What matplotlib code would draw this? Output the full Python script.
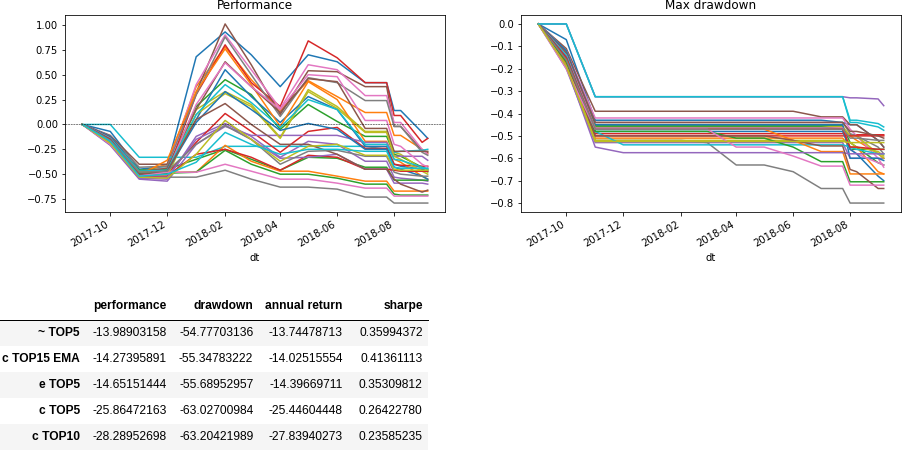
import matplotlib
matplotlib.use("Agg")
import matplotlib.pyplot as plt
import matplotlib.dates as mdates
import pandas as pd

# dates of the samples
dates = pd.to_datetime([
    "2017-09-01", "2017-10-01", "2017-11-01", "2017-12-01", "2018-01-01",
    "2018-02-01", "2018-03-01", "2018-04-01", "2018-05-01", "2018-06-01",
    "2018-07-01", "2018-07-24", "2018-08-01", "2018-08-08", "2018-08-31",
    "2018-09-06",
])

# performance, one list per strategy (order follows the default colour cycle)
performance = [
    [0, -0.07, -0.45, -0.42, 0.68, 0.93, 0.70, 0.38, 0.70, 0.63, 0.42, 0.42, 0.14, 0.14, -0.08, -0.14],
    [0, -0.13, -0.48, -0.40, 0.38, 0.78, 0.45, 0.14, 0.44, 0.28, 0.12, 0.12, -0.11, -0.11, -0.25, -0.29],
    [0, -0.14, -0.46, -0.44, 0.18, 0.45, 0.30, -0.05, 0.20, 0.03, -0.12, -0.12, -0.30, -0.32, -0.43, -0.45],
    [0, -0.12, -0.50, -0.48, 0.30, 0.80, 0.42, 0.18, 0.84, 0.67, 0.42, 0.42, 0.09, 0.09, -0.18, -0.14],
    [0, -0.20, -0.54, -0.55, -0.12, 0.01, -0.12, -0.33, -0.17, -0.20, -0.37, -0.37, -0.53, -0.54, -0.56, -0.57],
    [0, -0.11, -0.40, -0.40, 0.32, 1.01, 0.60, 0.10, 0.54, 0.53, 0.38, 0.38, -0.02, -0.02, -0.26, -0.28],
    [0, -0.12, -0.47, -0.44, 0.40, 0.90, 0.55, 0.16, 0.60, 0.55, 0.29, 0.29, 0.02, 0.02, -0.25, -0.30],
    [0, -0.12, -0.43, -0.42, 0.30, 0.88, 0.50, 0.08, 0.47, 0.42, 0.24, 0.24, -0.02, -0.02, -0.28, -0.31],
    [0, -0.15, -0.50, -0.48, 0.15, 0.33, 0.20, -0.13, 0.35, 0.18, -0.07, -0.07, -0.28, -0.30, -0.45, -0.48],
    [0, 0.00, -0.33, -0.33, -0.33, -0.22, -0.22, -0.22, -0.22, -0.22, -0.22, -0.25, -0.28, -0.27, -0.26, -0.25],
    [0, -0.12, -0.47, -0.45, 0.05, 0.55, 0.28, 0.02, 0.28, 0.15, -0.22, -0.22, -0.40, -0.42, -0.45, -0.47],
    [0, -0.16, -0.51, -0.36, 0.33, 0.76, 0.40, -0.02, 0.43, 0.25, -0.17, -0.17, -0.35, -0.38, -0.52, -0.55],
    [0, -0.15, -0.47, -0.45, -0.35, -0.25, -0.35, -0.46, -0.33, -0.34, -0.43, -0.43, -0.56, -0.56, -0.56, -0.56],
    [0, -0.14, -0.50, -0.50, -0.18, 0.11, -0.07, -0.28, -0.07, -0.03, -0.24, -0.24, -0.40, -0.41, -0.42, -0.42],
    [0, -0.21, -0.55, -0.57, -0.20, -0.02, -0.11, -0.11, -0.11, -0.11, -0.18, -0.18, -0.32, -0.32, -0.32, -0.36],
    [0, -0.13, -0.48, -0.44, 0.15, 0.63, 0.38, 0.12, 0.46, 0.43, -0.04, -0.04, -0.27, -0.27, -0.27, -0.27],
    [0, -0.14, -0.50, -0.48, 0.20, 0.62, 0.38, 0.15, 0.50, 0.48, 0.04, 0.04, -0.20, -0.22, -0.40, -0.43],
    [0, -0.18, -0.52, -0.53, -0.53, -0.46, -0.55, -0.63, -0.63, -0.65, -0.73, -0.73, -0.79, -0.79, -0.79, -0.79],
    [0, -0.17, -0.52, -0.52, 0.10, 0.31, 0.18, -0.14, 0.33, 0.16, -0.08, -0.08, -0.32, -0.35, -0.47, -0.50],
    [0, -0.14, -0.47, -0.46, 0.10, 0.40, 0.22, -0.03, 0.25, 0.15, -0.20, -0.20, -0.35, -0.36, -0.43, -0.45],
    [0, -0.15, -0.50, -0.47, 0.02, 0.33, 0.15, -0.06, 0.01, -0.05, -0.25, -0.25, -0.43, -0.45, -0.52, -0.55],
    [0, -0.18, -0.48, -0.48, -0.48, -0.21, -0.37, -0.47, -0.47, -0.52, -0.57, -0.57, -0.67, -0.67, -0.67, -0.67],
    [0, -0.17, -0.49, -0.49, -0.48, -0.26, -0.40, -0.50, -0.50, -0.54, -0.60, -0.60, -0.70, -0.71, -0.71, -0.71],
    [0, -0.15, -0.52, -0.52, -0.30, -0.25, -0.33, -0.46, -0.31, -0.33, -0.45, -0.45, -0.46, -0.47, -0.47, -0.47],
    [0, -0.19, -0.53, -0.53, -0.15, -0.01, -0.15, -0.34, -0.33, -0.30, -0.45, -0.45, -0.59, -0.59, -0.59, -0.60],
    [0, -0.16, -0.50, -0.47, 0.05, 0.21, 0.00, -0.20, -0.20, -0.30, -0.45, -0.45, -0.55, -0.60, -0.68, -0.66],
    [0, -0.20, -0.52, -0.48, -0.48, -0.40, -0.47, -0.55, -0.55, -0.59, -0.64, -0.64, -0.72, -0.72, -0.72, -0.72],
    [0, -0.16, -0.48, -0.47, -0.20, -0.01, -0.15, -0.40, -0.27, -0.26, -0.32, -0.32, -0.48, -0.50, -0.52, -0.52],
    [0, -0.19, -0.53, -0.54, -0.30, 0.04, -0.15, -0.37, -0.22, -0.20, -0.31, -0.31, -0.45, -0.46, -0.46, -0.46],
    [0, -0.17, -0.52, -0.50, -0.38, -0.08, -0.20, -0.30, -0.25, -0.25, -0.27, -0.27, -0.43, -0.44, -0.44, -0.44],
]

# max drawdown, same order
drawdown = [
    [0, -0.07, -0.43, -0.43, -0.43, -0.43, -0.43, -0.43, -0.43, -0.43, -0.43, -0.44, -0.45, -0.45, -0.52, -0.55],
    [0, -0.13, -0.46, -0.46, -0.46, -0.46, -0.46, -0.46, -0.46, -0.46, -0.46, -0.46, -0.50, -0.52, -0.58, -0.60],
    [0, -0.14, -0.455, -0.455, -0.455, -0.455, -0.455, -0.455, -0.455, -0.455, -0.455, -0.455, -0.53, -0.55, -0.62, -0.63],
    [0, -0.12, -0.49, -0.49, -0.49, -0.49, -0.49, -0.49, -0.49, -0.49, -0.49, -0.49, -0.495, -0.495, -0.495, -0.495],
    [0, -0.20, -0.53, -0.53, -0.53, -0.53, -0.53, -0.53, -0.53, -0.53, -0.53, -0.53, -0.60, -0.60, -0.60, -0.60],
    [0, -0.11, -0.39, -0.39, -0.39, -0.39, -0.39, -0.39, -0.39, -0.39, -0.415, -0.415, -0.45, -0.45, -0.52, -0.55],
    [0, -0.12, -0.42, -0.42, -0.42, -0.42, -0.42, -0.42, -0.42, -0.42, -0.42, -0.42, -0.47, -0.50, -0.60, -0.64],
    [0, -0.12, -0.44, -0.44, -0.44, -0.44, -0.44, -0.44, -0.44, -0.44, -0.44, -0.44, -0.49, -0.50, -0.55, -0.58],
    [0, -0.15, -0.46, -0.46, -0.46, -0.46, -0.46, -0.46, -0.46, -0.46, -0.46, -0.46, -0.50, -0.50, -0.58, -0.60],
    [0, 0.00, -0.325, -0.325, -0.325, -0.325, -0.325, -0.325, -0.325, -0.325, -0.325, -0.325, -0.43, -0.43, -0.445, -0.46],
    [0, -0.12, -0.45, -0.45, -0.45, -0.45, -0.45, -0.45, -0.45, -0.45, -0.45, -0.45, -0.60, -0.60, -0.60, -0.61],
    [0, -0.16, -0.51, -0.51, -0.51, -0.51, -0.51, -0.51, -0.51, -0.51, -0.51, -0.51, -0.55, -0.55, -0.66, -0.67],
    [0, -0.15, -0.46, -0.46, -0.46, -0.46, -0.46, -0.46, -0.46, -0.46, -0.46, -0.47, -0.56, -0.56, -0.56, -0.56],
    [0, -0.14, -0.50, -0.50, -0.50, -0.50, -0.50, -0.50, -0.50, -0.50, -0.50, -0.50, -0.50, -0.50, -0.50, -0.50],
    [0, 0.00, -0.325, -0.325, -0.325, -0.325, -0.325, -0.325, -0.325, -0.325, -0.325, -0.325, -0.33, -0.33, -0.335, -0.365],
    [0, -0.13, -0.44, -0.44, -0.44, -0.44, -0.44, -0.44, -0.44, -0.44, -0.44, -0.44, -0.48, -0.48, -0.50, -0.51],
    [0, -0.14, -0.465, -0.465, -0.465, -0.465, -0.465, -0.465, -0.465, -0.465, -0.465, -0.465, -0.56, -0.58, -0.62, -0.63],
    [0, -0.18, -0.52, -0.52, -0.52, -0.52, -0.53, -0.63, -0.63, -0.66, -0.735, -0.735, -0.80, -0.80, -0.80, -0.80],
    [0, -0.17, -0.52, -0.52, -0.52, -0.52, -0.52, -0.52, -0.52, -0.52, -0.52, -0.52, -0.53, -0.55, -0.57, -0.59],
    [0, -0.14, -0.48, -0.54, -0.54, -0.54, -0.54, -0.54, -0.54, -0.54, -0.54, -0.54, -0.55, -0.56, -0.58, -0.58],
    [0, -0.15, -0.48, -0.48, -0.48, -0.48, -0.48, -0.48, -0.48, -0.48, -0.48, -0.48, -0.56, -0.58, -0.68, -0.70],
    [0, -0.18, -0.47, -0.47, -0.47, -0.47, -0.47, -0.47, -0.47, -0.52, -0.57, -0.57, -0.67, -0.67, -0.67, -0.67],
    [0, -0.17, -0.48, -0.48, -0.48, -0.48, -0.48, -0.51, -0.51, -0.55, -0.615, -0.615, -0.705, -0.705, -0.705, -0.705],
    [0, -0.15, -0.47, -0.47, -0.47, -0.47, -0.47, -0.47, -0.47, -0.47, -0.47, -0.47, -0.55, -0.55, -0.56, -0.56],
    [0, -0.19, -0.55, -0.575, -0.575, -0.575, -0.575, -0.575, -0.575, -0.575, -0.575, -0.575, -0.58, -0.58, -0.58, -0.58],
    [0, -0.16, -0.50, -0.50, -0.50, -0.50, -0.50, -0.50, -0.50, -0.52, -0.545, -0.545, -0.65, -0.66, -0.735, -0.735],
    [0, -0.20, -0.47, -0.47, -0.47, -0.47, -0.47, -0.55, -0.55, -0.59, -0.635, -0.635, -0.72, -0.72, -0.72, -0.72],
    [0, -0.16, -0.47, -0.47, -0.47, -0.47, -0.47, -0.47, -0.47, -0.47, -0.47, -0.47, -0.51, -0.51, -0.52, -0.52],
    [0, -0.19, -0.525, -0.525, -0.525, -0.525, -0.525, -0.525, -0.525, -0.525, -0.525, -0.525, -0.53, -0.53, -0.53, -0.53],
    [0, 0.00, -0.325, -0.325, -0.325, -0.325, -0.325, -0.325, -0.325, -0.325, -0.325, -0.325, -0.44, -0.44, -0.46, -0.475],
]

# summary table
table_index = ["~ TOP5", "c TOP15 EMA", "e TOP5", "c TOP5", "c TOP10"]
table_columns = ["performance", "drawdown", "annual return", "sharpe"]
table_perf = [-13.98903158, -14.27395891, -14.65151444, -25.86472163, -28.28952698]
table_dd = [-54.77703136, -55.34783222, -55.68952957, -63.02700984, -63.20421989]
table_annual = [-13.74478713, -14.02515554, -14.39669711, -25.44604448, -27.83940273]
table_sharpe = [0.35994372, 0.41361113, 0.35309812, 0.26422780, 0.23585235]

W, H = 910, 454
fig = plt.figure(figsize=(W / 72, H / 72), dpi=72)

ax1 = fig.add_axes([65 / W, 1 - 212 / H, 380 / W, 197 / H])
ax2 = fig.add_axes([521 / W, 1 - 212 / H, 380 / W, 197 / H])

for serie in performance:
    ax1.plot(dates, serie, lw=1.5)
ax1.axhline(0, color="black", ls="--", lw=0.5)
ax1.set_title("Performance")

for serie in drawdown:
    ax2.plot(dates, serie, lw=1.5)
ax2.set_title("Max drawdown")

for ax in (ax1, ax2):
    ax.xaxis.set_major_locator(mdates.MonthLocator(bymonth=[2, 4, 6, 8, 10, 12]))
    ax.xaxis.set_major_formatter(mdates.DateFormatter("%Y-%m"))
    ax.set_xlabel("dt")
    for lab in ax.get_xticklabels():
        lab.set_rotation(30)
        lab.set_ha("right")

# table drawn like the pandas html output, in pixel units
tab = fig.add_axes([0, 0, 1, 1], zorder=-1)
tab.set_xlim(0, W)
tab.set_ylim(H, 0)
tab.axis("off")

row_h = 26
top = 320
right_edges = [166.7, 253.3, 342.7, 422.7]
font = dict(family="Liberation Sans", fontsize=12)

for j, col in enumerate(table_columns):
    tab.text(right_edges[j], 306, col, ha="right", va="center", fontweight="bold", **font)
tab.plot([0, 428], [319.5, 319.5], color="black", lw=1)

cols = [table_perf, table_dd, table_annual, table_sharpe]
for i, name in enumerate(table_index):
    y0 = top + i * row_h
    if i % 2 == 0:
        tab.add_patch(plt.Rectangle((0, y0), 428, row_h, color="#f5f5f5", lw=0))
    yc = y0 + row_h / 2
    tab.text(80, yc, name, ha="right", va="center", fontweight="bold", **font)
    for j, vals in enumerate(cols):
        tab.text(right_edges[j], yc, f"{vals[i]:.8f}", ha="right", va="center", **font)

fig.savefig("out.png", dpi=72)
